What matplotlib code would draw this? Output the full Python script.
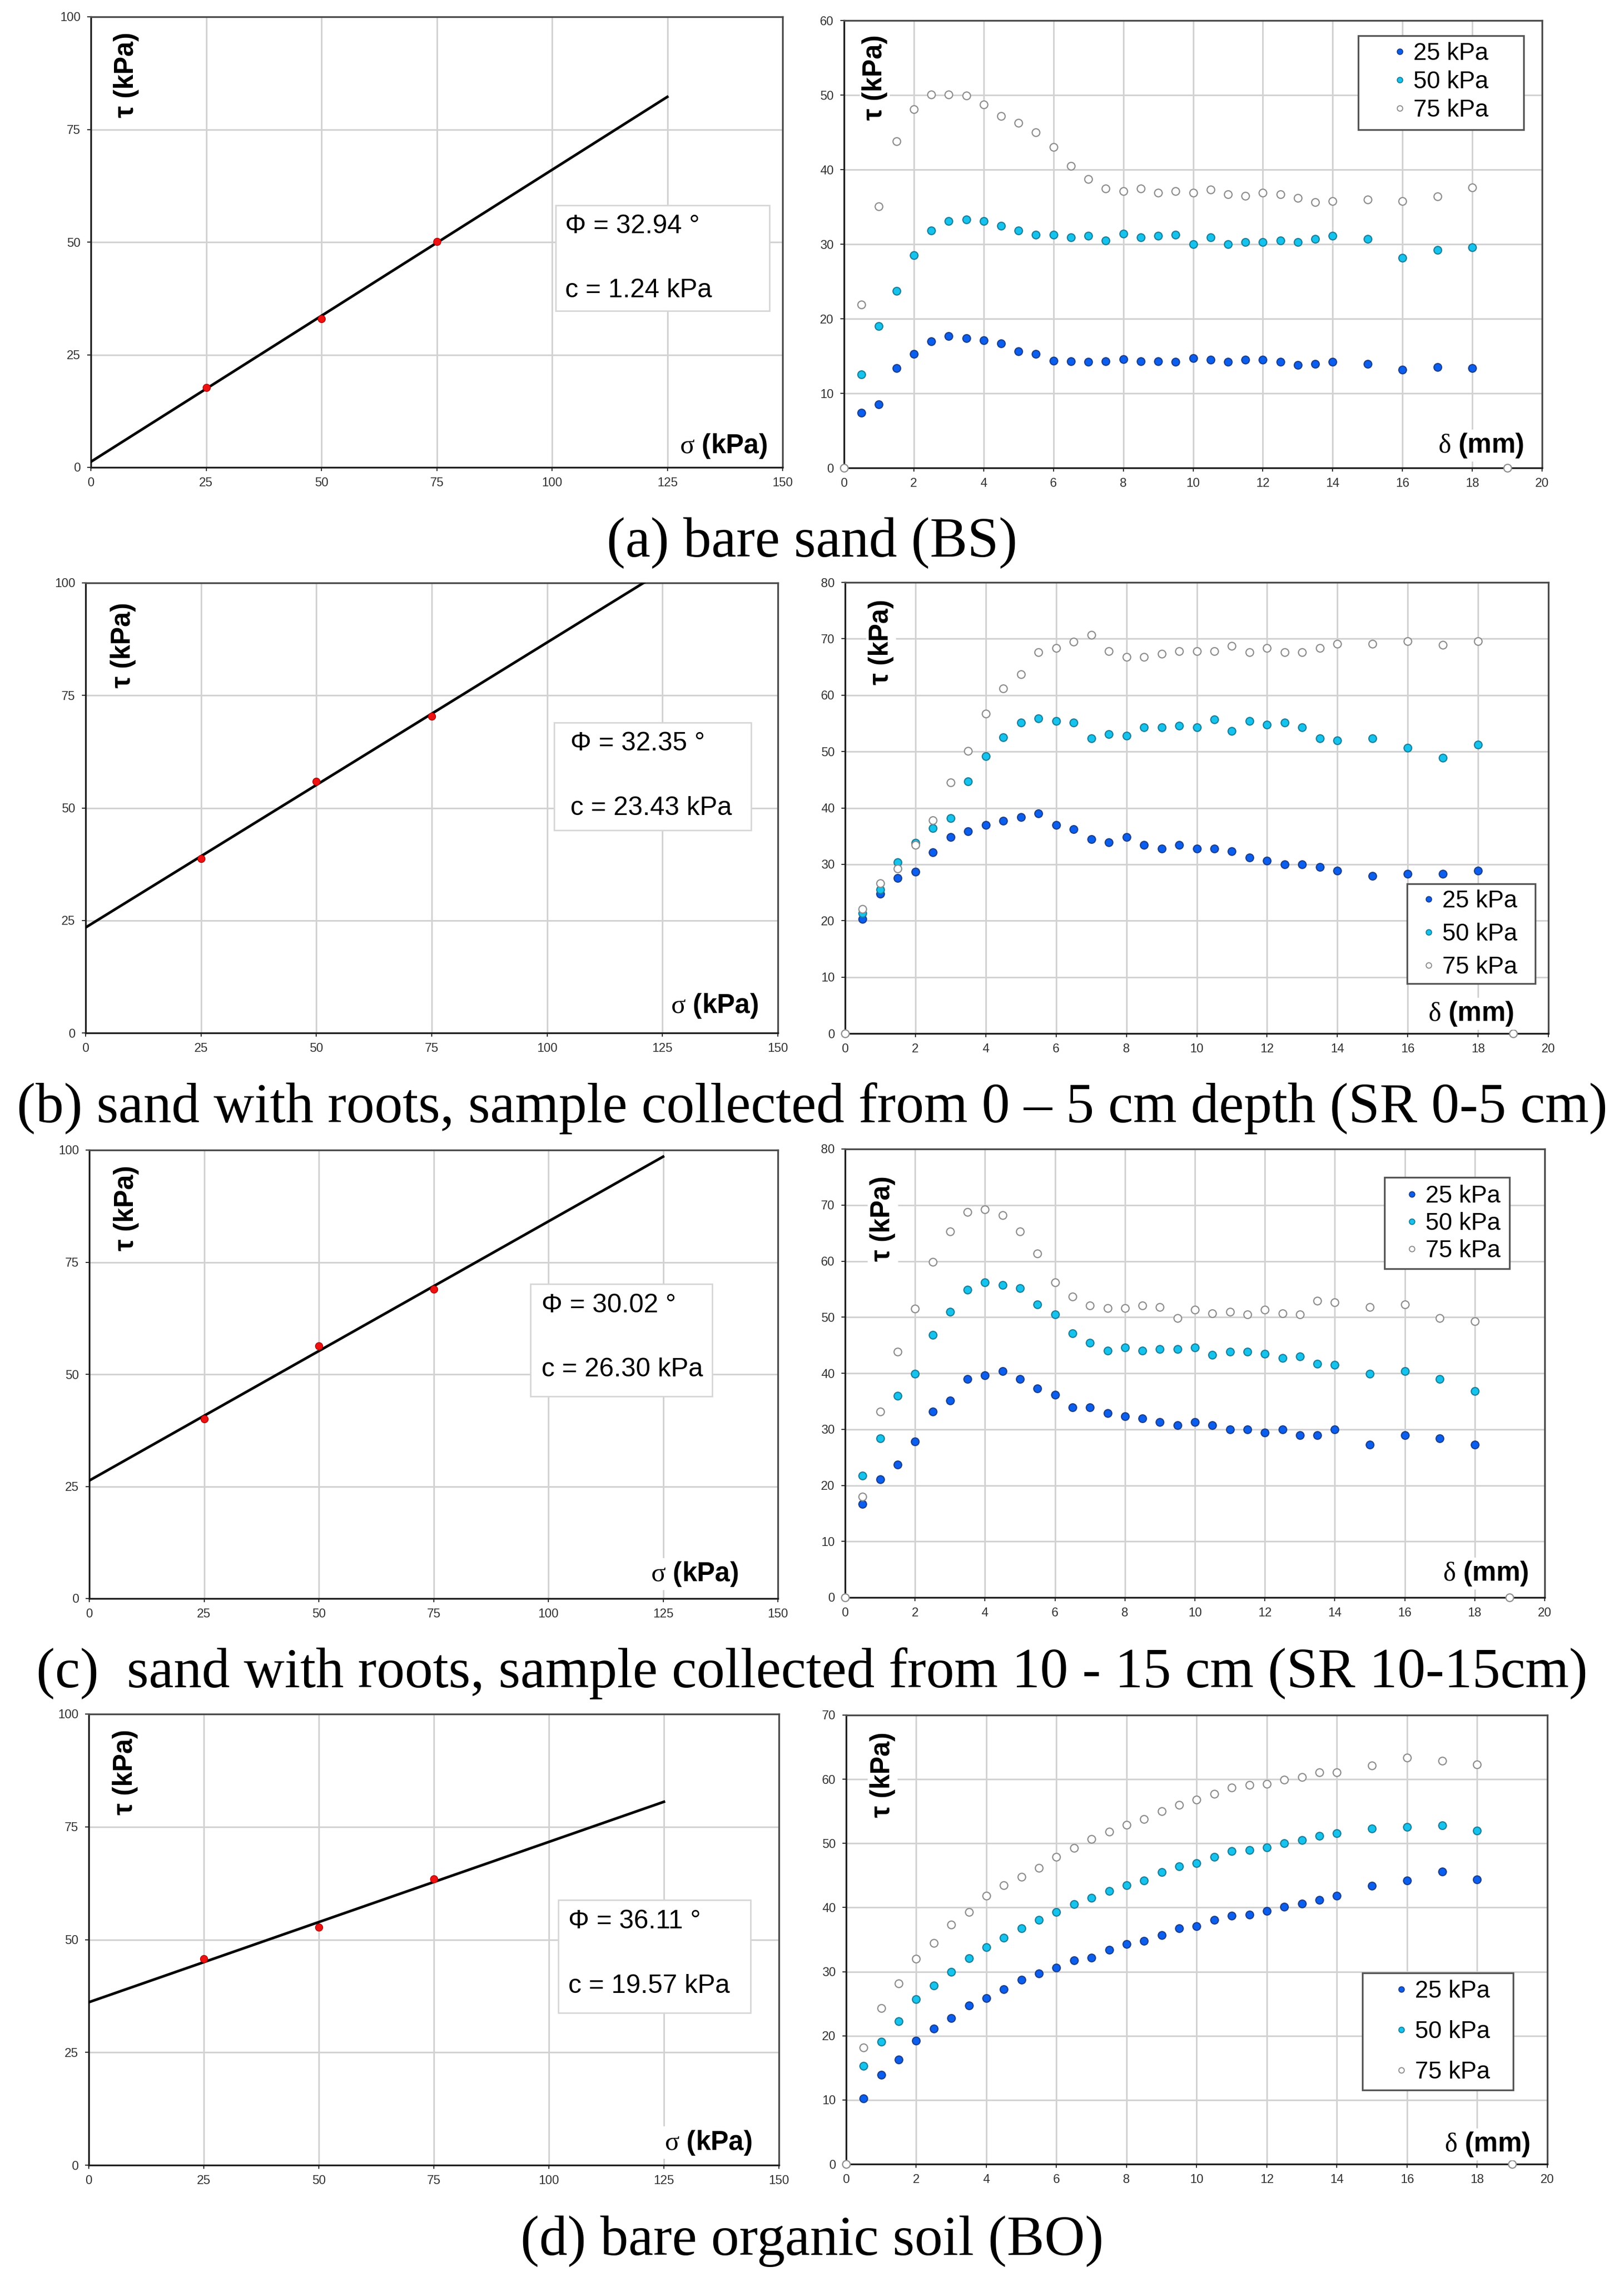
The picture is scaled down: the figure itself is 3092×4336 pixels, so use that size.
import numpy as np
import matplotlib.pyplot as plt
from matplotlib.patches import Rectangle
from matplotlib.lines import Line2D

W, H = 3092, 4336
DPI = 100

# ---- data ----------------------------------------------------------------
# horizontal displacement (mm) at which shear stress was logged
disp = [0.5, 1, 1.5, 2, 2.5, 3, 3.5, 4, 4.5, 5, 5.5, 6, 6.5, 7, 7.5, 8, 8.5, 9,
        9.5, 10, 10.5, 11, 11.5, 12, 12.5, 13, 13.5, 14, 15, 16, 17, 18]
# start / end points of the 75 kPa runs lying on the axis
zero_x = [0, 19]
zero_y = [0, 0]

# (a) bare sand
bs_25 = [7.4, 8.5, 13.4, 15.3, 17.0, 17.7, 17.4, 17.1, 16.7, 15.6, 15.3, 14.4,
         14.3, 14.25, 14.3, 14.55, 14.3, 14.3, 14.25, 14.7, 14.5, 14.2, 14.5, 14.5,
         14.2, 13.8, 13.95, 14.2, 13.95, 13.2, 13.5, 13.35]
bs_50 = [12.55, 19.0, 23.7, 28.5, 31.8, 33.1, 33.3, 33.1, 32.5, 31.8, 31.3, 31.3,
         30.9, 31.1, 30.5, 31.4, 30.9, 31.1, 31.3, 30.0, 30.9, 30.0, 30.3, 30.3,
         30.5, 30.3, 30.7, 31.1, 30.7, 28.2, 29.2, 29.6]
bs_75 = [21.9, 35.1, 43.8, 48.1, 50.1, 50.1, 49.9, 48.7, 47.2, 46.3, 45.0, 43.0,
         40.5, 38.7, 37.5, 37.1, 37.5, 36.9, 37.1, 36.9, 37.3, 36.7, 36.5, 36.9,
         36.7, 36.2, 35.6, 35.8, 36.0, 35.8, 36.4, 37.6]

# (b) sand with roots 0-5 cm
sr05_25 = [20.3, 24.8, 27.6, 28.7, 32.1, 34.8, 35.9, 37.0, 37.7, 38.4, 39.0, 37.0,
           36.2, 34.5, 33.9, 34.8, 33.4, 32.8, 33.4, 32.8, 32.8, 32.3, 31.2, 30.6,
           30.0, 30.0, 29.5, 28.9, 27.9, 28.3, 28.3, 28.9]
sr05_50 = [21.3, 25.5, 30.4, 33.8, 36.4, 38.2, 44.7, 49.2, 52.5, 55.1, 55.9, 55.4,
           55.1, 52.3, 53.1, 52.8, 54.3, 54.3, 54.6, 54.3, 55.7, 53.6, 55.4, 54.8,
           55.1, 54.3, 52.3, 52.0, 52.3, 50.7, 48.9, 51.2]
sr05_75 = [22.1, 26.6, 29.2, 33.4, 37.8, 44.5, 50.1, 56.7, 61.2, 63.7, 67.6, 68.4,
           69.5, 70.7, 67.8, 66.8, 66.8, 67.3, 67.8, 67.8, 67.8, 68.7, 67.6, 68.4,
           67.6, 67.6, 68.4, 69.1, 69.1, 69.6, 68.9, 69.6]

# (c) sand with roots 10-15 cm
sr1015_25 = [16.7, 21.1, 23.7, 27.8, 33.2, 35.1, 39.0, 39.6, 40.4, 39.0, 37.3, 36.2,
             33.9, 33.9, 32.9, 32.3, 31.9, 31.3, 30.7, 31.3, 30.7, 30.0, 30.0, 29.4,
             30.0, 28.9, 28.9, 30.0, 27.3, 28.9, 28.4, 27.3]
sr1015_50 = [21.7, 28.4, 36.0, 39.9, 46.8, 51.0, 54.9, 56.2, 55.7, 55.2, 52.3, 50.5,
             47.1, 45.4, 44.0, 44.6, 44.0, 44.3, 44.3, 44.6, 43.3, 43.8, 43.8, 43.5,
             42.7, 43.0, 41.7, 41.5, 39.9, 40.4, 39.0, 36.8]
sr1015_75 = [18.0, 33.2, 43.8, 51.5, 59.9, 65.3, 68.8, 69.2, 68.2, 65.3, 61.4, 56.2,
             53.7, 52.1, 51.6, 51.6, 52.1, 51.8, 49.8, 51.3, 50.7, 51.0, 50.5, 51.3,
             50.7, 50.5, 52.9, 52.6, 51.8, 52.3, 49.8, 49.3]

# (d) bare organic soil
bo_25 = [10.2, 13.9, 16.3, 19.2, 21.1, 22.8, 24.7, 25.9, 27.3, 28.7, 29.7, 30.6,
         31.8, 32.2, 33.4, 34.3, 34.8, 35.7, 36.8, 37.1, 38.1, 38.7, 38.9, 39.5,
         40.1, 40.6, 41.2, 41.8, 43.4, 44.2, 45.6, 44.4]
bo_50 = [15.3, 19.1, 22.3, 25.7, 27.8, 30.0, 32.1, 33.8, 35.3, 36.8, 38.1, 39.3,
         40.5, 41.5, 42.6, 43.5, 44.2, 45.5, 46.4, 46.9, 47.9, 48.8, 49.0, 49.4,
         50.0, 50.5, 51.2, 51.6, 52.3, 52.6, 52.8, 52.0]
bo_75 = [18.2, 24.3, 28.2, 32.0, 34.5, 37.3, 39.3, 41.8, 43.5, 44.8, 46.2, 47.9,
         49.3, 50.7, 51.8, 52.9, 53.8, 55.0, 56.0, 56.8, 57.7, 58.7, 59.1, 59.3,
         59.9, 60.3, 61.1, 61.1, 62.1, 63.4, 62.9, 62.3]

# peak shear stress vs normal stress
sigma = [25, 50, 75]
bs_tau = [17.7, 33.0, 50.1]
sr05_tau = [38.7, 55.9, 70.4]
sr1015_tau = [40.1, 56.3, 69.0]
bo_tau = [45.7, 52.7, 63.4]

# fitted envelopes as drawn (intercept kPa, slope angle deg)
fit_c = [1.24, 23.43, 26.30, 36.11]
fit_phi = [32.94, 32.35, 30.02, 19.57]
fit_x = [0, 125]
# values printed in the boxes
phi_txt = ['32.94', '32.35', '30.02', '36.11']
c_txt = ['1.24', '23.43', '26.30', '19.57']

series_labels = ['25 kPa', '50 kPa', '75 kPa']
captions = ['(a) bare sand (BS)',
            '(b) sand with roots, sample collected from 0 \u2013 5 cm depth (SR 0-5 cm)',
            '(c)  sand with roots, sample collected from 10 - 15 cm (SR 10-15cm)',
            '(d) bare organic soil (BO)']

curves = [(bs_25, bs_50, bs_75), (sr05_25, sr05_50, sr05_75),
          (sr1015_25, sr1015_50, sr1015_75), (bo_25, bo_50, bo_75)]
taus = [bs_tau, sr05_tau, sr1015_tau, bo_tau]
ymax_right = [60, 80, 80, 70]

# ---- layout (pixels, left, right, top, bottom) ----------------------------
left_px = [(173, 1490, 32, 890), (163, 1481, 1110, 1967),
           (170, 1481, 2190, 3044), (169, 1483, 3264, 4123)]
right_px = [(1607, 2936, 39, 891), (1609, 2948, 1109, 1968),
            (1609, 2941, 2188, 3042), (1611, 2946, 3266, 4121)]
caption_y = [1034, 2110, 3186, 4268]

# text box (x0, x1, y0, y1) in axes fraction, text left, line1 y, line2 y
box_pos = [(0.672, 0.981, 0.347, 0.582, 0.686, 0.535, 0.393),
           (0.677, 0.961, 0.450, 0.690, 0.700, 0.643, 0.499),
           (0.641, 0.905, 0.451, 0.701, 0.657, 0.653, 0.511),
           (0.680, 0.959, 0.338, 0.588, 0.695, 0.540, 0.397)]
sig_lbl = [(0.978, 0.047), (0.972, 0.060), (0.943, 0.054), (0.961, 0.050)]
del_lbl = [(0.974, 0.050), (0.951, 0.044), (0.977, 0.053), (0.976, 0.044)]
tau_lbl_left = [(0.051, 0.871), (0.054, 0.862), (0.054, 0.871), (0.053, 0.871)]
tau_lbl_right = [(0.044, 0.872), (0.051, 0.868), (0.054, 0.845), (0.052, 0.867)]
# legend frame (x0, x1, y0, y1), marker x, middle row y, label spacing
leg_pos = [(0.737, 0.974, 0.756, 0.966, 0.796, 0.863, 0.22),
           (0.799, 0.981, 0.111, 0.332, 0.830, 0.220, 0.42),
           (0.771, 0.950, 0.733, 0.937, 0.810, 0.834, 0.17),
           (0.736, 0.951, 0.165, 0.426, 0.792, 0.295, 0.72)]

SANS = ['Liberation Sans', 'DejaVu Sans']
TICK_FS = 17
LBL_FS = 37
BOX_FS = 36
LEG_FS = 33

face = ['#0a5ef0', '#14c4ee', 'white']
edge = ['#1c3f8c', '#1b7f9a', '#8c8c8c']

plt.rcParams['font.family'] = SANS
plt.rcParams['mathtext.fontset'] = 'custom'
plt.rcParams['mathtext.rm'] = 'Liberation Serif'


def add_px_axes(fig, box):
    l, r, t, b = box
    return fig.add_axes([l / W, 1 - b / H, (r - l) / W, (b - t) / H])


def style(ax, xmax, xstep, ymax, ystep):
    ax.set_xlim(0, xmax)
    ax.set_ylim(0, ymax)
    ax.set_xticks(np.arange(0, xmax + 0.1, xstep))
    ax.set_yticks(np.arange(0, ymax + 0.1, ystep))
    ax.set_axisbelow(True)
    ax.grid(True, color='#d2d2d2', lw=2.2)
    ax.tick_params(labelsize=TICK_FS, labelcolor='#333333', length=5, width=1.5,
                   color='#333333', pad=9)
    for s in ['left', 'bottom']:
        ax.spines[s].set_color('#1e1e1e')
        ax.spines[s].set_linewidth(2.4)
    for s in ['top', 'right']:
        ax.spines[s].set_color('#4a4a4a')
        ax.spines[s].set_linewidth(2.4)


def axis_label(ax, x, y, txt, rot=0, ha='center'):
    ax.text(x, y, txt, transform=ax.transAxes, rotation=rot, ha=ha, va='center',
            fontsize=LBL_FS, fontweight='bold', color='black', zorder=6,
            bbox=dict(facecolor='white', edgecolor='none', pad=3))


fig = plt.figure(figsize=(W / DPI, H / DPI), dpi=DPI)
fig.patch.set_facecolor('white')

for i in range(4):
    # ---- Mohr-Coulomb envelope
    ax = add_px_axes(fig, left_px[i])
    style(ax, 150, 25, 100, 25)
    fit_y = [fit_c[i] + np.tan(np.radians(fit_phi[i])) * x for x in fit_x]
    ax.plot(fit_x, fit_y, color='black', lw=3.6, zorder=3)
    ax.plot(sigma, taus[i], 'o', ms=10, mfc='#ee1111', mec='#b00000', mew=1,
            zorder=4)
    bx0, bx1, by0, by1, tx, ty1, ty2 = box_pos[i]
    ax.add_patch(Rectangle((bx0, by0), bx1 - bx0, by1 - by0, transform=ax.transAxes,
                           facecolor='white', edgecolor='#d6d6d6', lw=2, zorder=5))
    ax.text(tx, ty1, '\u03a6 = ' + phi_txt[i] + ' \u00b0', transform=ax.transAxes,
            ha='left', va='center', fontsize=BOX_FS, zorder=6)
    ax.text(tx, ty2, 'c = ' + c_txt[i] + ' kPa', transform=ax.transAxes,
            ha='left', va='center', fontsize=BOX_FS, zorder=6)
    axis_label(ax, *tau_lbl_left[i], '\u03c4 (kPa)', rot=90)
    axis_label(ax, *sig_lbl[i], r'$\mathrm{\sigma}$ (kPa)', ha='right')

    # ---- shear stress vs displacement
    ax = add_px_axes(fig, right_px[i])
    style(ax, 20, 2, ymax_right[i], 10)
    handles = []
    for k in range(3):
        ax.plot(disp, curves[i][k], 'o', ms=10.5, mfc=face[k], mec=edge[k],
                mew=1.6, zorder=4, clip_on=False)
        handles.append(Line2D([], [], ls='none', marker='o', ms=7.5, mfc=face[k],
                              mec=edge[k], mew=1.4))
    ax.plot(zero_x, zero_y, 'o', ms=10.5, mfc=face[2], mec=edge[2], mew=1.6,
            zorder=4, clip_on=False)
    axis_label(ax, *tau_lbl_right[i], '\u03c4 (kPa)', rot=90)
    axis_label(ax, *del_lbl[i], r'$\mathrm{\delta}$ (mm)', ha='right')

    lx0, lx1, ly0, ly1, mx, my, lsp = leg_pos[i]
    ax.add_patch(Rectangle((lx0, ly0), lx1 - lx0, ly1 - ly0, transform=ax.transAxes,
                           facecolor='white', edgecolor='#555555', lw=2.4, zorder=5))
    ax_w = right_px[i][1] - right_px[i][0]
    fs_px = LEG_FS / 72 * DPI
    leg = ax.legend(handles, series_labels, loc='center left',
                    bbox_to_anchor=(mx - 0.25 * fs_px / ax_w, my),
                    frameon=False, borderpad=0, borderaxespad=0, handlelength=0.5,
                    handletextpad=0.32, labelspacing=lsp, fontsize=LEG_FS)
    leg.set_zorder(7)

for i in range(4):
    fig.text(1546 / W, 1 - caption_y[i] / H, captions[i], ha='center', va='center',
             fontsize=77, family=['Liberation Serif', 'DejaVu Serif'])

fig.savefig('out.png', dpi=DPI, facecolor='white')
